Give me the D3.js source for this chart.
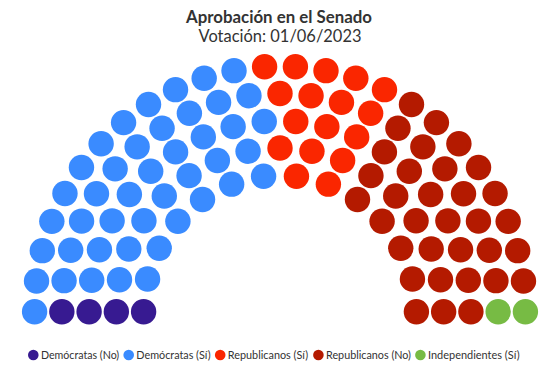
<!DOCTYPE html>
<html>
<head>
<meta charset="utf-8">
<script src="https://cdn.jsdelivr.net/npm/d3@7"></script>
<style>
  html, body { margin: 0; padding: 0; background: #fff; }
  svg { display: block; }
</style>
</head>
<body>
<div id="chart"></div>
<script>
// ---- Data ----
const title = "Aprobación en el Senado";
const subtitle = "Votación: 01/06/2023";
const categories = ["Demócratas (No)", "Demócratas (Sí)", "Republicanos (Sí)", "Republicanos (No)", "Independientes (Sí)"];
const seats = [4, 44, 17, 33, 2];
const colors = ["#371a91", "#3a8bff", "#fa2600", "#b41a00", "#77bb44"];
const ringCount = 5;

// ---- Layout ----
const W = 558, H = 370;
const cx = 280, cy = 311.7;
const innerR = 136.4, outerR = 245.4;
const dotR = 12.7;

const svg = d3.select("#chart").append("svg").attr("width", W).attr("height", H);

const total = d3.sum(seats);
const rScale = d3.scaleLinear().domain([0, ringCount - 1]).range([innerR, outerR]);
const radii = d3.range(ringCount).map(i => rScale(i));
const rSum = d3.sum(radii);
// seats per ring proportional to radius
let perRing = radii.map(r => Math.round(total * r / rSum));
let diff = total - d3.sum(perRing);
while (diff !== 0) {
  const idx = diff > 0 ? ringCount - 1 : 0;
  perRing[idx] += Math.sign(diff);
  diff = total - d3.sum(perRing);
}

let slots = [];
radii.forEach((r, i) => {
  const n = perRing[i];
  const aScale = d3.scaleLinear().domain([0, n - 1]).range([Math.PI, 0]);
  for (let j = 0; j < n; j++) {
    const a = aScale(j);
    slots.push({ r, a, ring: i, x: cx + r * Math.cos(a), y: cy - r * Math.sin(a) });
  }
});
slots.sort((p, q) => (q.a - p.a) || (p.r - q.r));

const partyOf = [];
seats.forEach((s, k) => { for (let i = 0; i < s; i++) partyOf.push(k); });
slots.forEach((s, i) => s.party = partyOf[i]);

const color = d3.scaleOrdinal().domain(categories).range(colors);

svg.append("g").selectAll("circle").data(slots).join("circle")
  .attr("cx", d => d.x).attr("cy", d => d.y).attr("r", dotR)
  .attr("fill", d => color(categories[d.party]));

// ---- Titles ----
const font = "Lato, 'Open Sans', sans-serif";
svg.append("text").attr("x", 279).attr("y", 23).attr("text-anchor", "middle")
  .attr("font-family", font).attr("font-weight", "bold").attr("font-size", 16.5)
  .attr("fill", "#333333").attr("textLength", 186).attr("lengthAdjust", "spacingAndGlyphs")
  .text(title);
svg.append("text").attr("x", 280).attr("y", 42).attr("text-anchor", "middle")
  .attr("font-family", font).attr("font-size", 16.5)
  .attr("fill", "#333333").attr("textLength", 163).attr("lengthAdjust", "spacingAndGlyphs")
  .text(subtitle);

// ---- Legend ----
const legendTextStart = [40.9, 136.3, 227.8, 326, 428];
const legendTextEnd = [119.2, 210.7, 308.2, 411, 519.6];
const lg = svg.append("g");
categories.forEach((c, i) => {
  const x0 = legendTextStart[i];
  lg.append("circle").attr("cx", x0 - 7.6).attr("cy", 355).attr("r", 5.3).attr("fill", colors[i]);
  lg.append("text").attr("x", x0).attr("y", 359)
    .attr("font-family", font).attr("font-size", 12)
    .attr("fill", "#333333")
    .attr("textLength", legendTextEnd[i] - x0).attr("lengthAdjust", "spacingAndGlyphs")
    .text(c);
});
</script>
</body>
</html>
